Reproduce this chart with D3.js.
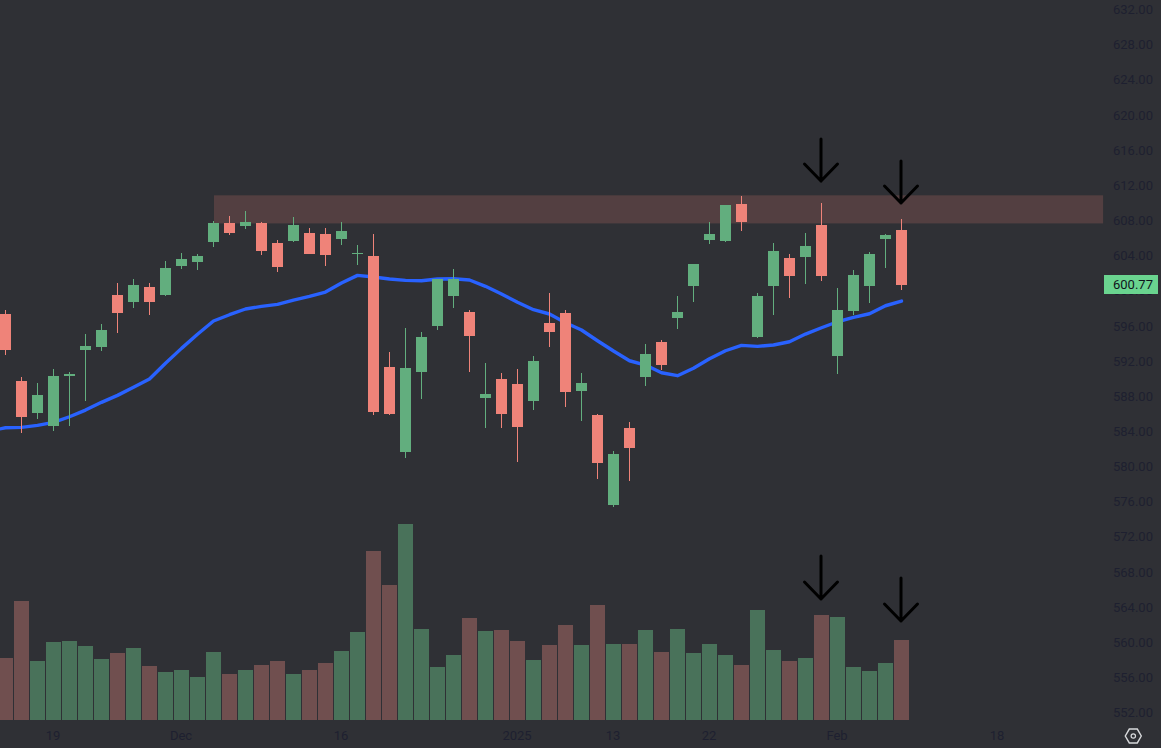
<!DOCTYPE html>
<html><head><meta charset="utf-8">
<style>html,body{margin:0;padding:0;background:#2f3035;overflow:hidden}svg{display:block}text{font-family:Roboto,sans-serif}</style>
<script src="https://cdn.jsdelivr.net/npm/d3@7/dist/d3.min.js"></script>
</head><body><svg id="c" width="1161" height="748"></svg>
<script>
const opens=[597.29,589.66,586.02,584.54,590.23,593.19,593.53,599.45,598.65,600.36,599.45,602.75,603.21,605.48,607.64,607.30,607.64,605.37,605.59,606.51,606.39,605.82,604.15,603.89,591.26,581.58,590.69,595.92,599.34,597.52,587.73,589.89,589.32,587.39,596.26,597.40,588.52,585.79,575.55,584.31,590.12,594.10,596.83,600.47,605.71,605.59,609.81,594.67,600.47,603.66,603.77,607.42,592.51,597.63,600.47,605.82,606.85];
const highs=[597.74,590.12,589.43,591.03,590.69,595.01,596.15,600.82,601.27,600.82,603.32,604.23,604.11,607.87,608.44,609.01,607.76,605.71,608.33,607.07,607.07,607.76,605.14,606.39,592.97,595.69,595.24,601.27,602.41,597.74,591.71,590.57,591.03,592.51,599.68,597.74,590.57,585.91,581.70,585.00,593.87,594.33,599.34,602.98,607.76,609.69,610.72,599.68,605.37,604.11,606.51,609.92,600.25,602.30,604.34,606.39,608.10];
const lows=[592.62,583.75,585.34,583.97,584.54,587.39,593.08,595.12,597.97,597.17,599.34,602.41,602.30,604.91,606.28,606.96,604.00,602.07,605.48,604.11,602.75,605.14,602.86,585.79,585.79,580.90,587.62,595.47,597.97,590.69,584.31,584.31,580.45,586.36,593.53,586.70,585.11,578.51,575.32,578.28,589.09,590.91,595.58,598.65,605.25,605.48,606.73,594.56,597.17,599.11,600.70,601.04,590.46,597.17,598.54,602.52,600.02];
const closes=[593.19,585.57,588.07,590.23,590.46,593.65,595.47,597.40,600.59,598.65,602.52,603.55,603.89,607.64,606.51,607.76,604.46,602.64,607.42,604.11,604.00,606.73,604.20,586.13,585.91,591.14,594.67,601.27,601.27,594.78,588.18,585.91,584.43,591.94,595.24,588.41,589.43,580.33,581.35,582.04,592.74,591.48,597.52,602.98,606.39,609.69,607.76,599.34,604.46,601.61,605.03,601.61,597.74,601.73,604.11,606.28,600.59];
const volumes=[31,59.5,29.5,39,39.5,37,30.5,33.5,36,27,24,25,21.5,34,23,25,27.5,29.5,23,25,28.5,34.5,44,84.5,67.5,98,45.5,26.5,32.5,51,44.5,45,39.5,30,37.5,47.5,37.5,57.5,38,38,45,34,45.5,33.5,38,32.5,27.5,55,35,29.5,31,52.5,51.5,26.5,24.5,28.5,40];
const ema=[583.97,584.35,584.39,584.62,584.96,585.60,586.36,587.24,588.03,588.95,589.89,591.68,593.38,594.98,596.49,597.21,597.86,598.16,598.39,598.88,599.30,599.79,600.82,601.69,601.50,601.27,601.12,601.08,601.27,601.30,601.16,600.44,599.56,598.62,597.78,597.29,596.30,595.47,594.25,593.08,591.97,591.48,590.61,590.27,591.11,592.20,593.11,593.72,593.61,593.76,594.13,595.01,595.73,596.41,596.91,597.32,598.23,598.77];
const timeTicks=[3,11,21,32,38,44,52,62];
const timeLabels=["19","Dec","16","2025","13","22","Feb","18"];
const priceTicks=d3.range(552,633,4);
const lastPrice=600.77;
const zone={i0:13.03,i1:68.6,top:610.8,bottom:607.6};
const priceArrows=[{i:51,tip:612.42,tail:617.2},{i:56,tip:609.92,tail:614.7}];
const volumeArrows=[{i:51,tip:60.5,tail:82},{i:56,tip:49.5,tail:71}];

const UP="#62ae7e",DOWN="#ef8379",UPV="#49725a",DOWNV="#704f4f";
const svg=d3.select("#c");
const x=d3.scaleLinear().domain([0,56]).range([5.5,901.5]);
const y=d3.scaleLinear().domain([552,632]).range([712,9]);
const v=d3.scaleLinear().domain([0,100]).range([720,520]);
const plot=svg.append("g");

plot.append("rect").attr("x",x(zone.i0)).attr("width",x(zone.i1)-x(zone.i0))
 .attr("y",y(zone.top)).attr("height",y(zone.bottom)-y(zone.top)).attr("fill","#533f41");

const idx=d3.range(opens.length);
plot.append("g").selectAll("rect").data(idx).join("rect")
 .attr("x",i=>x(i)-7.5).attr("width",15)
 .attr("y",i=>v(volumes[i])).attr("height",i=>v(0)-v(volumes[i]))
 .attr("fill",i=>closes[i]<opens[i]?DOWNV:UPV).attr("shape-rendering","crispEdges");

plot.append("path").datum(ema).attr("fill","none").attr("stroke","#2962ff").attr("stroke-width",3.4)
 .attr("stroke-linecap","round").attr("stroke-linejoin","round")
 .attr("d",d3.line().x((d,k)=>x(k-1)).y(d=>y(d)));

const candles=plot.append("g").attr("shape-rendering","crispEdges");
candles.selectAll(".w").data(idx).join("rect").attr("class","w")
 .attr("x",i=>Math.floor(x(i)-0.5)).attr("width",1)
 .attr("y",i=>y(highs[i])).attr("height",i=>y(lows[i])-y(highs[i]))
 .attr("fill",i=>closes[i]<opens[i]?DOWN:UP);
candles.selectAll(".b").data(idx).join("rect").attr("class","b")
 .attr("x",i=>x(i)-5.5).attr("width",11)
 .attr("y",i=>y(Math.max(opens[i],closes[i])))
 .attr("height",i=>Math.max(1,Math.abs(y(opens[i])-y(closes[i]))))
 .attr("fill",i=>closes[i]<opens[i]?DOWN:UP);

function arrows(list,s){
 const g=plot.append("g").attr("fill","none").attr("stroke","#000").attr("stroke-width",3).attr("stroke-linecap","round").attr("stroke-linejoin","round");
 g.selectAll("path").data(list).join("path").attr("d",d=>{
  const px=x(d.i)-0.5,t=s(d.tip),l=s(d.tail);
  return `M${px},${l}L${px},${t}M${px-16.5},${t-17}L${px},${t}L${px+16.5},${t-17}`;
 });
}
arrows(priceArrows,y);arrows(volumeArrows,v);

const axisY=svg.append("g").attr("transform","translate(1113,0.5)")
 .call(d3.axisRight(y).tickValues(priceTicks).tickSize(0).tickPadding(0).tickFormat(d3.format(".2f")));
axisY.select(".domain").remove();
axisY.selectAll("text").attr("font-family","Roboto,sans-serif").attr("font-size",13).attr("fill","#1e2030").attr("dy","0.32em");

const axisX=svg.append("g").attr("transform","translate(-1,730.5)")
 .call(d3.axisBottom(x).tickValues(timeTicks).tickSize(0).tickPadding(0).tickFormat((d,k)=>timeLabels[k]));
axisX.select(".domain").remove();
axisX.selectAll("text").attr("font-family","Roboto,sans-serif").attr("font-size",13).attr("fill","#1e2030").attr("dy","0.71em");

const ly=y(lastPrice)+1;
svg.append("rect").attr("x",1104).attr("width",54).attr("y",ly-9.5).attr("height",19).attr("fill","#6ad48f").attr("shape-rendering","crispEdges");
svg.append("text").attr("x",1113).attr("y",ly).attr("dy","0.35em").attr("font-size",13).attr("fill","#10141c").text(d3.format(".2f")(lastPrice));

const hex=d3.range(6).map(k=>{const a=Math.PI/3*k;return [1133.3+8*Math.cos(a),736+8*Math.sin(a)];});
svg.append("path").attr("d",d3.line()(hex)+"Z").attr("fill","none").attr("stroke","#d8d9dc").attr("stroke-width",1.4);
svg.append("circle").attr("cx",1133.3).attr("cy",736).attr("r",2.2).attr("fill","none").attr("stroke","#d8d9dc").attr("stroke-width",1.2);
</script></body></html>
